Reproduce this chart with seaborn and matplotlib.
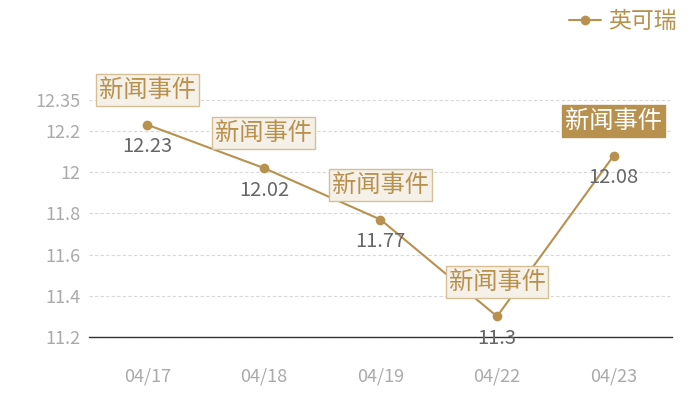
import pandas as pd
import seaborn as sns
import matplotlib.pyplot as plt

dates = ["04/17", "04/18", "04/19", "04/22", "04/23"]
prices = [12.23, 12.02, 11.77, 11.3, 12.08]
event_text = "新闻事件"
series_name = "英可瑞"
y_ticks = [11.2, 11.4, 11.6, 11.8, 12, 12.2, 12.35]
y_tick_labels = ["11.2", "11.4", "11.6", "11.8", "12", "12.2", "12.35"]

gold = "#b8914e"

sns.set_style("white")
plt.rcParams['font.family'] = ['Noto Sans CJK SC', 'DejaVu Sans']

df = pd.DataFrame({"date": dates, "price": prices})

fig = plt.figure(figsize=(7, 4), dpi=100)
ax = fig.add_axes([0.127, 0.1575, 0.833, 0.5925])

sns.lineplot(data=df, x="date", y="price", ax=ax, color=gold, linewidth=1.5,
             marker="o", markersize=7, markeredgewidth=0, label=series_name,
             zorder=3)

ax.set_xlim(-0.5, len(dates) - 0.5)
ax.set_ylim(11.2, 12.35)
ax.set_yticks(y_ticks)
ax.set_yticklabels(y_tick_labels)
ax.set_xlabel("")
ax.set_ylabel("")

for y in y_ticks:
    ax.axhline(y, color="#d8d8d8", linestyle=(0, (3, 2)), linewidth=0.8, zorder=0)

for s in ["top", "right", "left"]:
    ax.spines[s].set_visible(False)
ax.spines["bottom"].set_color("#333333")
ax.spines["bottom"].set_linewidth(1.0)

ax.tick_params(axis="both", length=0, labelsize=13, labelcolor="#aaaaaa")
ax.tick_params(axis="x", pad=22)
ax.tick_params(axis="y", pad=6)

for i, (d, p) in enumerate(zip(dates, prices)):
    ax.annotate(f"{p:g}", (i, p), xytext=(0, -16), textcoords="offset points",
                ha="center", va="center", fontsize=14.5, color="#666666", zorder=4)
    last = i == len(dates) - 1
    ax.annotate(event_text, (i, p), xytext=(0, 25),
                textcoords="offset points", ha="center", va="center",
                fontsize=17.5, color="white" if last else gold, zorder=5,
                bbox=dict(boxstyle="square,pad=0.12",
                          facecolor=gold if last else "#f5f0e8",
                          edgecolor=gold if last else "#d6bf94", linewidth=1))

leg = ax.legend(loc="upper right", bbox_to_anchor=(0.99, 1.015), bbox_transform=fig.transFigure,
                frameon=False, fontsize=16.5, handlelength=1.4, handletextpad=0.3,
                borderaxespad=0.3)
for t in leg.get_texts():
    t.set_color(gold)

fig.savefig("out.png", dpi=100)
